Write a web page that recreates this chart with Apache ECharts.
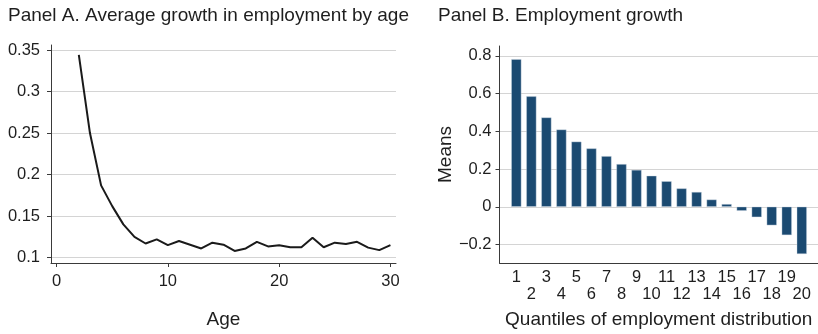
<!DOCTYPE html>
<html>
<head>
<meta charset="utf-8">
<script src="https://cdn.jsdelivr.net/npm/echarts@6/dist/echarts.min.js"></script>
<style>
  html, body { margin: 0; padding: 0; background: #fff; }
  #chart { width: 818px; height: 334px; }
</style>
</head>
<body>
<div id="chart"></div>
<script>
// Panel A: average employment growth by firm age
const ages = [2, 3, 4, 5, 6, 7, 8, 9, 10, 11, 12, 13, 14, 15, 16, 17, 18, 19, 20, 21, 22, 23, 24, 25, 26, 27, 28, 29, 30];
const growthByAge = [0.344, 0.250, 0.187, 0.162, 0.140, 0.125, 0.117, 0.122, 0.115, 0.120, 0.1155, 0.111, 0.118, 0.1155, 0.108, 0.111, 0.119, 0.1135, 0.115, 0.1125, 0.1125, 0.124, 0.1125, 0.118, 0.1165, 0.119, 0.112, 0.109, 0.115];
const ageTicks = [0, 10, 20, 30];
const growthTicks = [0.1, 0.15, 0.2, 0.25, 0.3, 0.35];

// Panel B: mean employment growth by quantile of the employment distribution
const quantiles = [1, 2, 3, 4, 5, 6, 7, 8, 9, 10, 11, 12, 13, 14, 15, 16, 17, 18, 19, 20];
const quantileMeans = [0.782, 0.585, 0.473, 0.409, 0.345, 0.309, 0.268, 0.226, 0.195, 0.164, 0.135, 0.097, 0.078, 0.038, 0.014, -0.021, -0.055, -0.098, -0.150, -0.250];
const meanTicks = [-0.2, 0, 0.2, 0.4, 0.6, 0.8];
// quantile labels are staggered on two rows: odd ones on top, even ones below
const oddQuantiles = quantiles.filter(q => q % 2 === 1);
const evenQuantiles = quantiles.filter(q => q % 2 === 0);

const FONT = 'Liberation Sans, Arial, Helvetica, sans-serif';
const TEXT = '#1e1e1e';
const AXIS = '#3a3a3a';
const GRIDLINE = '#d4d4d4';
const BAR = '#1b4a71';

const chart = echarts.init(document.getElementById('chart'), null, { renderer: 'canvas' });

const trimNum = v => String(parseFloat(v.toFixed(2)));
const signed = v => (v < 0 ? '\u2212' + trimNum(-v) : trimNum(v));

const labelBase = { fontFamily: FONT, fontSize: 16.5, color: TEXT, showMinLabel: true, showMaxLabel: true };
const nameStyle = { fontFamily: FONT, fontSize: 19, color: TEXT };

chart.setOption({
  animation: false,
  backgroundColor: '#ffffff',
  textStyle: { fontFamily: FONT, color: TEXT },
  title: [
    { text: 'Panel A. Average growth in employment by age', left: 8, top: 6.5, padding: 0,
      textStyle: { fontFamily: FONT, fontSize: 19, fontWeight: 'normal', color: TEXT } },
    { text: 'Panel B. Employment growth', left: 438, top: 6.5, padding: 0,
      textStyle: { fontFamily: FONT, fontSize: 19, fontWeight: 'normal', color: TEXT } }
  ],
  grid: [
    { left: 51, right: 422, top: 45, bottom: 66 },
    { left: 499.5, right: 0, top: 46, bottom: 66 }
  ],
  xAxis: [
    {
      gridIndex: 0, type: 'value', position: 'bottom', min: -0.5, max: 30.5,
      name: 'Age', nameLocation: 'middle', nameGap: 47, nameTextStyle: nameStyle,
      axisLine: { show: true, onZero: false, lineStyle: { color: AXIS, width: 1 } },
      axisTick: { show: true, length: 4, customValues: ageTicks, lineStyle: { color: AXIS } },
      axisLabel: Object.assign({ customValues: ageTicks, margin: 10 }, labelBase),
      splitLine: { show: false }
    },
    {
      gridIndex: 1, type: 'value', position: 'bottom', min: -0.12, max: 21.08,
      name: 'Quantiles of employment distribution', nameLocation: 'middle', nameGap: 47, nameTextStyle: nameStyle,
      axisLine: { show: true, onZero: false, lineStyle: { color: AXIS, width: 1 } },
      axisTick: { show: false },
      axisLabel: Object.assign({ customValues: oddQuantiles, margin: 6 }, labelBase),
      splitLine: { show: false }
    },
    {
      gridIndex: 1, type: 'value', position: 'bottom', min: -0.12, max: 21.08,
      axisLine: { show: false, onZero: false },
      axisTick: { show: false },
      axisLabel: Object.assign({ customValues: evenQuantiles, margin: 22.6 }, labelBase),
      splitLine: { show: false }
    }
  ],
  yAxis: [
    {
      gridIndex: 0, type: 'value', position: 'left', min: 0.0935, max: 0.356,
      axisLine: { show: true, onZero: false, lineStyle: { color: AXIS, width: 1 } },
      axisTick: { show: true, length: 4, customValues: growthTicks, lineStyle: { color: AXIS } },
      axisLabel: Object.assign({ customValues: growthTicks, margin: 11, formatter: trimNum }, labelBase),
      splitLine: { show: true, lineStyle: { color: GRIDLINE, width: 1 } }
    },
    {
      gridIndex: 1, type: 'value', position: 'left', min: -0.298, max: 0.852,
      name: 'Means', nameLocation: 'middle', nameGap: 40, nameRotate: 90, nameTextStyle: nameStyle,
      axisLine: { show: true, onZero: false, lineStyle: { color: AXIS, width: 1 } },
      axisTick: { show: true, length: 4, customValues: meanTicks, lineStyle: { color: AXIS } },
      axisLabel: Object.assign({ customValues: meanTicks, margin: 8, formatter: signed }, labelBase),
      splitLine: { show: true, lineStyle: { color: GRIDLINE, width: 1 } }
    }
  ],
  series: [
    {
      type: 'line', xAxisIndex: 0, yAxisIndex: 0,
      data: ages.map((a, i) => [a, growthByAge[i]]),
      showSymbol: false, smooth: false,
      lineStyle: { color: '#1a1a1a', width: 2 }
    },
    {
      type: 'bar', xAxisIndex: 1, yAxisIndex: 1,
      data: quantiles.map((q, i) => [q, quantileMeans[i]]),
      barWidth: 10,
      itemStyle: { color: BAR, borderColor: '#c9d6e2', borderWidth: 0.4 }
    }
  ]
});
</script>
</body>
</html>
